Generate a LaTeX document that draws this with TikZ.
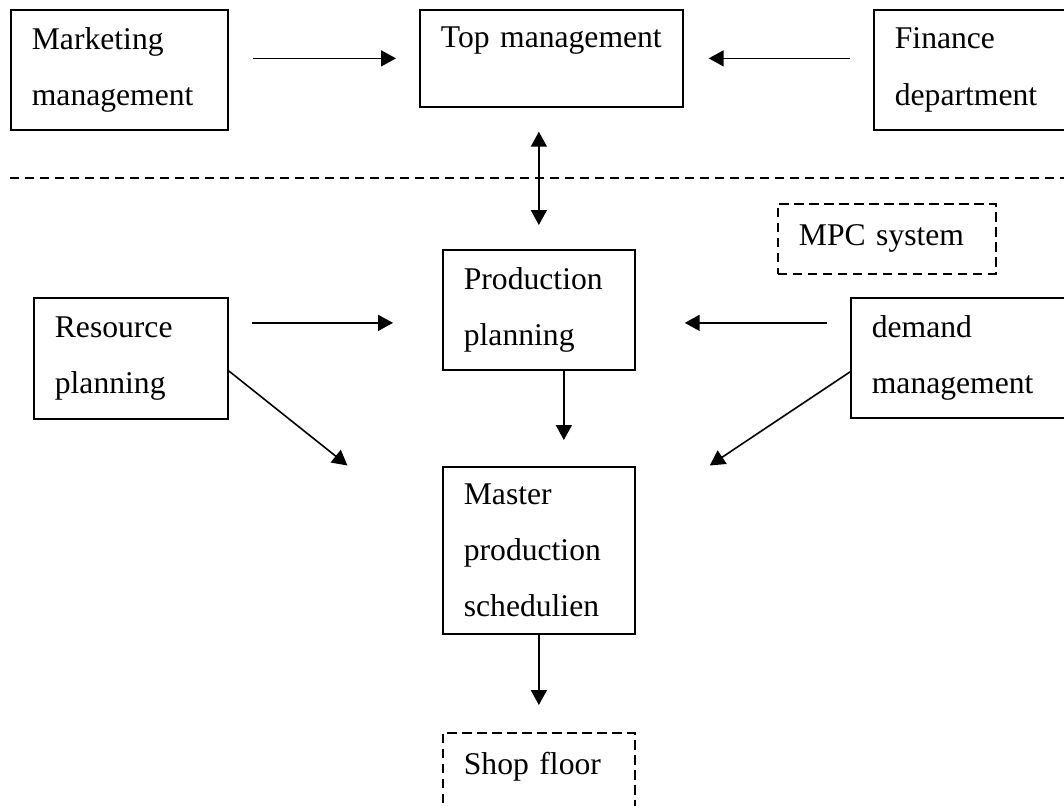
\documentclass[tikz,border=0pt]{standalone}
\usepackage{fontspec}
\setmainfont{Liberation Serif}
\usetikzlibrary{arrows.meta}
\tikzset{
  box/.style    = {rectangle, draw, line width=1pt, align=left,
                   anchor=north west, inner xsep=0.42cm, inner ysep=0pt},
  dbox/.style   = {box, dash pattern=on 0.19cm off 0.11cm},
  arrow/.style  = {-{Triangle[length=0.3cm, width=0.32cm]}, line width=0.9pt},
  darrow/.style = {{Triangle[length=0.3cm, width=0.32cm]}-{Triangle[length=0.3cm, width=0.32cm]},
                   line width=0.9pt},
  dline/.style  = {line width=1pt, dash pattern=on 0.19cm off 0.11cm},
}

\begin{document}
\begin{tikzpicture}[x=0.02cm, y=-0.02cm, font=\fontsize{18pt}{32pt}\selectfont]
  \useasboundingbox (0,0) rectangle (1064,805);

  % management level
  \node[box, minimum width=4.34cm, minimum height=2.4cm, text width=3.5cm]
    (mkt) at (10,9) {Marketing\\management};
  \node[box, minimum width=5.26cm, minimum height=1.94cm, text width=4.42cm,
        text depth=0.85cm] (top) at (419,9) {Top management};
  \node[box, minimum width=3.9cm, minimum height=2.4cm, text width=3.06cm]
    (fin) at (873,9) {Finance\\department};

  \draw[dline] (10,178) -- (1070,178);

  % MPC system
  \node[dbox, minimum width=4.36cm, minimum height=1.4cm, text width=3.52cm]
    (mpc) at (777,203) {MPC system};
  \node[box, minimum width=3.84cm, minimum height=2.4cm, text width=3.0cm]
    (prod) at (442,249) {Production\\planning};
  \node[box, minimum width=3.88cm, minimum height=2.42cm, text width=3.04cm]
    (res) at (33,297) {Resource\\planning};
  \node[box, minimum width=4.36cm, minimum height=2.4cm, text width=3.52cm]
    (dem) at (850,297) {demand\\management};
  \node[box, minimum width=3.84cm, minimum height=3.34cm, text width=3.0cm]
    (mst) at (442,466) {Master\\production\\schedulien};
  \node[dbox, minimum width=3.84cm, minimum height=1.6cm, text width=3.0cm,
        text depth=0.39cm] (shop) at (442,732) {Shop floor};

  \coordinate (pw) at ([yshift=-0.26cm]prod.west);
  \coordinate (pe) at ([yshift=-0.26cm]prod.east);

  \draw[arrow, shorten <=0.48cm, shorten >=0.46cm] (mkt.east |- top.west) -- (top.west);
  \draw[arrow, shorten <=0.46cm, shorten >=0.5cm] (fin.west |- top.east) -- (top.east);
  \draw[darrow, shorten <=0.48cm, shorten >=0.48cm] (top.south -| prod.north) -- (prod.north);
  \draw[arrow, shorten <=0.46cm, shorten >=0.98cm] (res.east |- pw) -- (pw);
  \draw[arrow, shorten <=0.46cm, shorten >=0.98cm] (dem.west |- pe) -- (pe);
  \draw[arrow, shorten >=2.42cm] ([yshift=-0.25cm]res.east) -- ([yshift=0.19cm]mst.west);
  \draw[arrow, shorten >=1.78cm] ([yshift=-0.28cm]dem.west) -- ([yshift=0.71cm]mst.east);
  \draw[arrow, shorten >=0.52cm] ([xshift=0.5cm]prod.south) -- ([xshift=0.5cm]mst.north);
  \draw[arrow, shorten >=0.54cm] (mst) -- (shop);
\end{tikzpicture}
\end{document}
